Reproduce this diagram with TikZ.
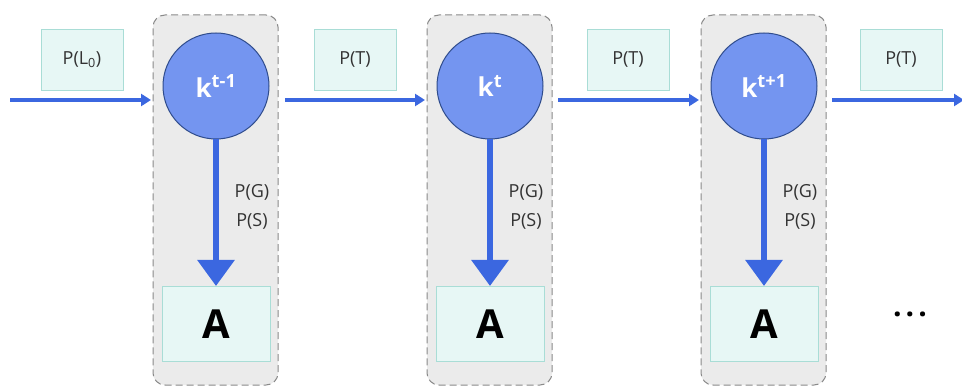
\documentclass[tikz,border=0pt]{standalone}
\usepackage{fontspec}
\setmainfont{Open Sans}
\usetikzlibrary{arrows.meta}
\definecolor{grayfill}{HTML}{EBEBEB}
\definecolor{grayline}{HTML}{8A8A8A}
\definecolor{circfill}{HTML}{7495F0}
\definecolor{circline}{HTML}{2F4C8C}
\definecolor{arrblue}{HTML}{3B67E0}
\definecolor{pfill}{HTML}{E7F7F5}
\definecolor{pline}{HTML}{A9DDD6}
\tikzset{
  slice/.style={draw=grayline, fill=grayfill, dashed, dash pattern=on 7pt off 4pt, line width=1pt, rounded corners=12pt, minimum width=125pt, minimum height=370pt, inner sep=0pt},
  state/.style={circle, draw=circline, fill=circfill, line width=1pt, minimum size=106pt, inner sep=0pt, text=white, font=\fontsize{26}{28}\selectfont\bfseries},
  probbox/.style={draw=pline, fill=pfill, line width=1pt, minimum width=82pt, minimum height=61pt, inner sep=0pt, font=\fontsize{18}{20}\selectfont, text=black!80},
  obsbox/.style={draw=pline, fill=pfill, line width=1pt, minimum width=108pt, minimum height=75pt, inner sep=0pt, font=\fontsize{40}{42}\selectfont\bfseries},
  emit/.style={font=\fontsize{18}{20}\selectfont, text=black!80, inner sep=0pt},
  harrow/.style={draw=arrblue, line width=4pt, -{Triangle[width=12pt,length=10pt]}},
  varrow/.style={draw=arrblue, line width=6pt, -{Triangle[width=36pt,length=26pt]}},
}
\begin{document}
\begin{tikzpicture}[x=1pt,y=-1pt]
\path[use as bounding box, fill=white] (0,0) rectangle (962,390);
% slices
\node[slice] (g1) at (215.5,200) {};
\node[slice] (g2) at (489.5,200) {};
\node[slice] (g3) at (763.5,200) {};
% states
\node[state] (k1) at (216,86) {k\textsuperscript{t-1}};
\node[state] (k2) at (490,86) {k\textsuperscript{t}};
\node[state] (k3) at (764,86) {k\textsuperscript{t+1}};
% observations
\node[obsbox] (a1) at (216,324) {A};
\node[obsbox] (a2) at (490,324) {A};
\node[obsbox] (a3) at (764,324) {A};
% transition probabilities
\node[probbox] (p0) at (82,60) {P(L\textsubscript{0})};
\node[probbox] (p1) at (355,60) {P(T)};
\node[probbox] (p2) at (628,60) {P(T)};
\node[probbox] (p3) at (901,60) {P(T)};
% horizontal connectors
\coordinate (s0) at (10,100);
\coordinate (e0) at (151,100);
\coordinate (s1) at (285,100);
\coordinate (e1) at (425,100);
\coordinate (s2) at (558,100);
\coordinate (e2) at (699,100);
\coordinate (s3) at (832,100);
\coordinate (e3) at (964,100);
\draw[harrow] (s0) -- (e0);
\draw[harrow] (s1) -- (e1);
\draw[harrow] (s2) -- (e2);
\draw[harrow] (s3) -- (e3);
% emission arrows
\draw[varrow] (k1.south) -- (a1.north);
\draw[varrow] (k2.south) -- (a2.north);
\draw[varrow] (k3.south) -- (a3.north);
% emission labels
\node[emit] (pg1) at (252,192) {P(G)};
\node[emit] (ps1) at (252,221) {P(S)};
\node[emit] (pg2) at (526,192) {P(G)};
\node[emit] (ps2) at (526,221) {P(S)};
\node[emit] (pg3) at (800,192) {P(G)};
\node[emit] (ps3) at (800,221) {P(S)};
% continuation
\node[font=\fontsize{30}{32}\selectfont\bfseries] (dots) at (910,314) {.\hspace{4pt}.\hspace{4pt}.};
\end{tikzpicture}
\end{document}
